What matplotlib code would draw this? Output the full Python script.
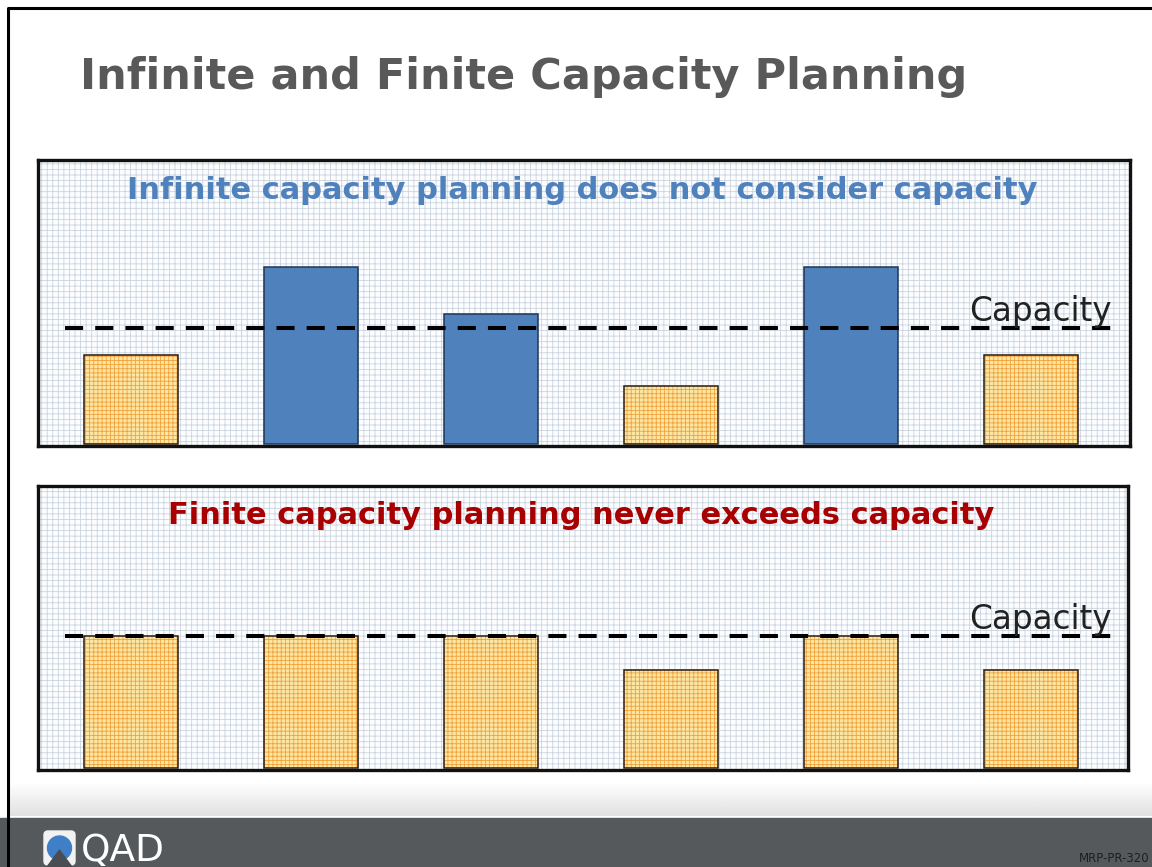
import numpy as np
import matplotlib.pyplot as plt
from matplotlib.patches import Rectangle, FancyBboxPatch, Circle, Polygon

# Datos: carga por periodo frente a la capacidad (capacidad = 100)
periods = np.arange(6)
capacity = 100
infinite_load = [77, 153, 112, 50, 153, 77]
finite_load = [100, 100, 100, 74, 100, 74]

title = 'Infinite and Finite Capacity Planning'
infinite_title = 'Infinite capacity planning does not consider capacity'
finite_title = 'Finite capacity planning never exceeds capacity'

W, H = 1152, 867
plt.rcParams['hatch.linewidth'] = 0.6

fig = plt.figure(figsize=(W / 100, H / 100), dpi=100)

# Fondo de la diapositiva en coordenadas de pixel
bg = fig.add_axes([0, 0, 1, 1])
bg.set_xlim(0, W)
bg.set_ylim(H, 0)
bg.axis('off')
grad = np.linspace(1.0, 0.88, 64).reshape(-1, 1)
bg.imshow(grad, cmap='gray', vmin=0, vmax=1, extent=[8, W, 816, 782], aspect='auto', zorder=0)
bg.add_patch(Rectangle((0, 818), W, H - 818, color='#55595c', zorder=1))
bg.plot([8, 8, W], [H, 8, 8], color='black', lw=2.2, zorder=2)
bg.text(80, 77, title, fontsize=31, fontweight='bold', color='#595959', va='center')

# Logo y pie de pagina
bg.add_patch(FancyBboxPatch((44, 831), 31, 34, boxstyle='round,pad=0,rounding_size=4',
                            color='#f2f2f2', zorder=3))
bg.add_patch(Circle((59.5, 848), 12, color='#3f7fc8', zorder=4))
bg.add_patch(Polygon([[47, 867], [59.5, 850], [72, 867]], color='#4a4e52', zorder=5))
bg.text(81, 861, 'QAD', fontsize=27, color='white', va='baseline')
bg.text(1149, 858, 'MRP-PR-320', fontsize=8.5, color='#1e1e1e', ha='right', va='center')


def px_box(x0, y0, x1, y1):
    return [x0 / W, 1 - y1 / H, (x1 - x0) / W, (y1 - y0) / H]


def panel(box_px, loads, label, label_color, scale):
    x0, y0, x1, y1 = box_px
    ax = fig.add_axes(px_box(*box_px))
    # scale: pixeles por unidad de carga
    ax.set_xlim((x0 - 131) / 180, (x1 - 131) / 180)
    ax.set_ylim(-2 / scale, (y1 - 2 - y0) / scale)
    ax.add_patch(Rectangle((0, 0), 1, 1, transform=ax.transAxes, facecolor='#fcfdff',
                           edgecolor='#cbd3de', hatch='+++', lw=0, zorder=0))
    for s in ax.spines.values():
        s.set_linewidth(2.4)
        s.set_color('#111111')
    ax.set_xticks([])
    ax.set_yticks([])

    loads = np.array(loads)
    over = loads > capacity
    ax.bar(periods[~over], loads[~over], width=0.517, facecolor='#fde6a4',
           edgecolor='#f0a23c', hatch='++++', lw=0, zorder=2)
    ax.bar(periods[~over], loads[~over], width=0.517, fill=False,
           edgecolor='#2a1c10', lw=1.1, zorder=3)
    ax.bar(periods[over], loads[over], width=0.517, color='#4f81bd',
           edgecolor='#1f3554', lw=1.1, zorder=3)

    ax.plot([(65 - 131) / 180, (1112 - 131) / 180], [capacity, capacity],
            color='black', lw=2.9, dashes=(4.5, 3), zorder=4)
    ax.text((1112 - 131) / 180, capacity + 7 / scale, 'Capacity', fontsize=23.5,
            color='#222222', ha='right', va='baseline', zorder=5)
    ax.text(0.498, 0.895, label, transform=ax.transAxes, fontsize=22,
            fontweight='bold', color=label_color, ha='center', va='center', zorder=5)
    return ax


panel((38, 160, 1130, 446), infinite_load, infinite_title, '#4f81bd', 1.16)
panel((38, 486, 1128, 770), finite_load, finite_title, '#a80000', 1.32)

fig.savefig('out.png', dpi=100)
